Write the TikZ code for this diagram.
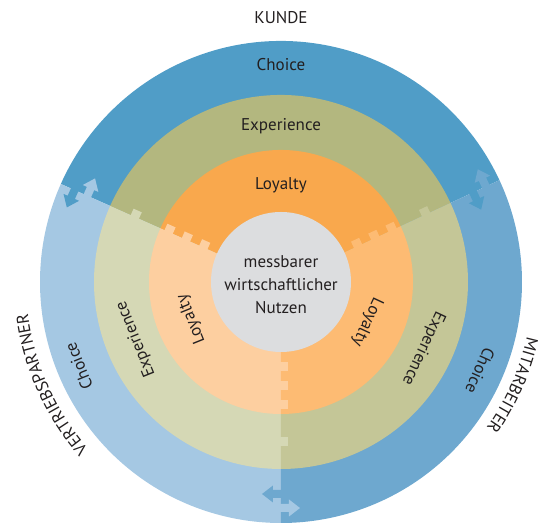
\documentclass[tikz,border=0pt]{standalone}
\usepackage{fontspec}
\setmainfont{PT Sans}
\usepackage{xcolor}
\usepackage{tikz}
\usetikzlibrary{decorations.text}

\definecolor{choiceTop}{RGB}{80,157,199}
\definecolor{choiceLeft}{RGB}{165,200,227}
\definecolor{choiceRight}{RGB}{110,168,207}
\definecolor{expTop}{RGB}{179,183,127}
\definecolor{expLeft}{RGB}{213,216,181}
\definecolor{expRight}{RGB}{196,198,151}
\definecolor{loyTop}{RGB}{249,168,77}
\definecolor{loyLeft}{RGB}{253,207,160}
\definecolor{loyRight}{RGB}{253,187,115}
\definecolor{coreGrey}{RGB}{220,221,223}
\definecolor{txt}{RGB}{35,31,32}

% pie piece: colour, start angle, end angle, radius
\newcommand{\wedgepart}[4]{\fill[#1] (0,0) -- (#2:#4) arc[start angle=#2, end angle=#3, radius=#4] -- cycle;}
% small tab on a sector border: colour, border angle, radius, side (+1 ccw / -1 cw)
\newcommand{\puzzletab}[4]{\fill[#1, rotate=#2] ({#3-4.5},{-1*(#4)}) rectangle ({#3+4.5},{7*(#4)});}
% arrow crossing a border of the outer ring
\newcommand{\borderarrow}[4]{\fill[#1, rotate=#2] ({#3-4},{-2*(#4)}) -- ({#3-4},{8*(#4)}) -- ({#3-8.5},{8*(#4)}) -- (#3,{19*(#4)}) -- ({#3+8.5},{8*(#4)}) -- ({#3+4},{8*(#4)}) -- ({#3+4},{-2*(#4)}) -- cycle;}

\begin{document}
\begin{tikzpicture}[x=1pt, y=1pt]
    \tikzstyle{lbl} = [inner sep=0pt, text=txt, font=\fontsize{17}{23}\selectfont, align=center]
    \tikzstyle{outer} = [decorate, decoration={text along path, text align=center, text color=txt, text={|\fontsize{17}{17}\selectfont|#1}}]

    \useasboundingbox (-281,-244) rectangle (257,282);

    % choice ring
    \wedgepart{choiceTop}{25}{156}{241}
    \wedgepart{choiceLeft}{156}{270}{241}
    \wedgepart{choiceRight}{270}{385}{241}
    \borderarrow{choiceRight}{25}{226}{1}
    \borderarrow{choiceTop}{25}{212}{-1}
    \borderarrow{choiceTop}{156}{226}{1}
    \borderarrow{choiceLeft}{156}{212}{-1}
    \borderarrow{choiceLeft}{270}{226}{1}
    \borderarrow{choiceRight}{270}{212}{-1}

    % experience ring
    \wedgepart{expTop}{25}{156}{187}
    \wedgepart{expLeft}{156}{270}{187}
    \wedgepart{expRight}{270}{385}{187}
    \puzzletab{expRight}{25}{160}{1}
    \puzzletab{expLeft}{156}{160}{-1}
    \puzzletab{expLeft}{270}{160}{1}

    % loyalty ring
    \wedgepart{loyTop}{25}{156}{132}
    \wedgepart{loyLeft}{156}{270}{132}
    \wedgepart{loyRight}{270}{385}{132}
    \foreach \r in {85,104,123} {
        \puzzletab{loyRight}{25}{\r}{1}
        \puzzletab{loyLeft}{156}{\r}{-1}
        \puzzletab{loyLeft}{270}{\r}{1}
    }

    \fill[coreGrey] (0,0) circle[radius=70];
    \node[lbl] (core) at (0,-3) {messbarer\\wirtschaftlicher\\Nutzen};

    \node[lbl] (choiceT) at (90:217) {Choice};
    \node[lbl, rotate=112] (choiceL) at (202.5:219) {Choice};
    \node[lbl, rotate=-114] (choiceR) at (-24:218) {Choice};
    \node[lbl] (expT) at (90:156) {Experience};
    \node[lbl, rotate=112] (expL) at (201.5:156) {Experience};
    \node[lbl, rotate=-115] (expR) at (-25:157) {Experience};
    \node[lbl] (loyT) at (90:97) {Loyalty};
    \node[lbl, rotate=112] (loyL) at (202.5:97) {Loyalty};
    \node[lbl, rotate=-115] (loyR) at (-25:95) {Loyalty};

    \node[lbl, anchor=base] (kunde) at (90:258) {KUNDE};
    \path[outer=VERTRIEBSPARTNER] (244:255) arc[start angle=244, end angle=164, radius=255];
    \path[outer=MITARBEITER] (16:252) arc[start angle=16, end angle=-64, radius=252];
\end{tikzpicture}
\end{document}
